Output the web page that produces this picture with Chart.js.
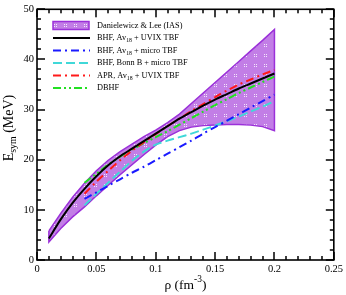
<!DOCTYPE html>
<html>
<head>
<meta charset="utf-8">
<script src="https://cdn.jsdelivr.net/npm/chart.js@4"></script>
<style>
  html, body { margin: 0; padding: 0; background: #fff; }
  #wrap { width: 346px; height: 295px; }
</style>
</head>
<body>
<div id="wrap"><canvas id="esym"></canvas></div>
<script>
// density grids (fm^-3)
const bandRho = [0.01, 0.02, 0.03, 0.04, 0.05, 0.06, 0.07, 0.08, 0.09, 0.10,
                 0.11, 0.12, 0.13, 0.14, 0.15, 0.16, 0.17, 0.18, 0.19, 0.20];
const modelRho = [0.04, 0.05, 0.06, 0.07, 0.08, 0.09, 0.10, 0.11, 0.12,
                  0.13, 0.14, 0.15, 0.16, 0.17, 0.18, 0.19, 0.20];

// Danielewicz & Lee (IAS) band, MeV
const bandUpper = [5.8, 9.3, 12.5, 15.3, 17.8, 19.9, 21.6, 23.1, 24.6, 25.9,
                   27.4, 29.1, 31.2, 33.3, 35.4, 37.5, 39.6, 41.7, 43.8, 46.0];
const bandLower = [3.6, 6.3, 8.6, 10.6, 12.8, 14.9, 17.0, 19.0, 21.0, 22.9,
                   24.6, 25.8, 26.5, 26.8, 26.9, 27.0, 27.0, 26.9, 26.6, 25.8];

// BHF, Av18 + UVIX TBF (on bandRho)
const bhfUvix = [4.3, 8.1, 11.4, 14.2, 16.7, 18.9, 20.7, 22.2, 23.7, 25.2,
                 26.7, 28.2, 29.5, 30.8, 32.0, 33.1, 34.2, 35.2, 36.2, 37.2];
// the rest on modelRho
const bhfMicro = [12.2, 13.5, 14.8, 16.1, 17.4, 18.6, 19.9, 21.2, 22.5,
                  23.8, 25.2, 26.5, 27.8, 29.1, 30.4, 31.7, 33.0];
const bonnMicro = [10.9, 13.2, 15.4, 17.6, 19.8, 21.6, 23.0, 23.8, 24.5,
                   25.2, 26.0, 26.8, 27.7, 28.6, 29.6, 30.6, 31.7];
const aprUvix = [13.2, 15.6, 17.8, 19.9, 21.8, 23.5, 25.1, 26.7, 28.2,
                 29.7, 31.1, 32.5, 33.8, 35.0, 36.0, 37.0, 37.9];
const dbhf = [15.4, 17.2, 19.0, 20.6, 22.0, 23.3, 24.5, 25.7, 27.0,
              28.3, 29.6, 30.9, 32.1, 33.3, 34.4, 35.5, 36.6];

const xTicks = [0, 0.05, 0.1, 0.15, 0.2, 0.25];
const yTicks = [0, 10, 20, 30, 40, 50];

const SERIF = "'Liberation Serif', 'Times New Roman', serif";
Chart.defaults.font.family = SERIF;
Chart.defaults.color = "#000";

const PURPLE_FILL = "#c27ee6";
const PURPLE_EDGE = "#9b30d9";

function makePattern() {
  const c = document.createElement("canvas");
  c.width = 10;
  c.height = 10;
  const g = c.getContext("2d");
  g.fillStyle = PURPLE_FILL;
  g.fillRect(0, 0, 10, 10);
  g.fillStyle = "#f4e8fb";
  g.fillRect(4, 4, 1, 1);
  g.fillRect(6, 4, 1, 1);
  g.fillRect(4, 6, 1, 1);
  g.fillRect(6, 6, 1, 1);
  return document.getElementById("esym").getContext("2d").createPattern(c, "repeat");
}

function xy(xs, ys) {
  return xs.map((x, i) => ({ x: x, y: ys[i] }));
}

// closed outline: upper edge forward, lower edge back
function bandShape() {
  const pts = xy(bandRho, bandUpper);
  for (let i = bandRho.length - 1; i >= 0; i--) {
    pts.push({ x: bandRho[i], y: bandLower[i] });
  }
  pts.push({ x: bandRho[0], y: bandUpper[0] });
  return pts;
}

// text with _{sub} and ^{sup}
function richParts(str) {
  const parts = [];
  const re = /([_^])\{([^}]*)\}/g;
  let last = 0, m;
  while ((m = re.exec(str)) !== null) {
    if (m.index > last) parts.push({ t: str.slice(last, m.index), k: "n" });
    parts.push({ t: m[2], k: m[1] === "_" ? "sub" : "sup" });
    last = re.lastIndex;
  }
  if (last < str.length) parts.push({ t: str.slice(last), k: "n" });
  return parts;
}

function drawRich(ctx, str, x, y, size, align) {
  const parts = richParts(str);
  const small = size * 0.7;
  let total = 0;
  parts.forEach(p => {
    ctx.font = (p.k === "n" ? size : small) + "px " + SERIF;
    p.w = ctx.measureText(p.t).width;
    total += p.w;
  });
  let cx = align === "center" ? x - total / 2 : x;
  ctx.textAlign = "left";
  ctx.textBaseline = "middle";
  parts.forEach(p => {
    let dy = 0;
    if (p.k === "sub") dy = size * 0.32;
    if (p.k === "sup") dy = -size * 0.38;
    ctx.font = (p.k === "n" ? size : small) + "px " + SERIF;
    ctx.fillText(p.t, cx, y + dy);
    cx += p.w;
  });
}

const framePlugin = {
  id: "frame",
  afterDraw(chart) {
    const ctx = chart.ctx;
    const a = chart.chartArea;
    const xs = chart.scales.x, ys = chart.scales.y;
    ctx.save();
    ctx.setLineDash([]);
    ctx.strokeStyle = "#000";
    ctx.lineWidth = 1.6;
    ctx.strokeRect(a.left, a.top, a.right - a.left, a.bottom - a.top);

    // inward tick marks on all four sides
    ctx.fillStyle = "#000";
    for (let k = 0; k <= 25; k++) {
      const len = k % 5 === 0 ? 8 : 4;
      const px = Math.round(xs.getPixelForValue(k * 0.01));
      ctx.fillRect(px - 0.75, a.bottom - len, 1.5, len);
      ctx.fillRect(px - 0.75, a.top, 1.5, len);
    }
    for (let v = 0; v <= 50; v += 2) {
      const len = v % 10 === 0 ? 8 : 4;
      const py = Math.round(ys.getPixelForValue(v));
      ctx.fillRect(a.left, py - 0.75, len, 1.5);
      ctx.fillRect(a.right - len, py - 0.75, len, 1.5);
    }

    // axis titles
    drawRich(ctx, "\u03c1 (fm^{-3})", (a.left + a.right) / 2, 285, 13.5, "center");
    ctx.save();
    ctx.translate(9, 128);
    ctx.rotate(-Math.PI / 2);
    drawRich(ctx, "E_{sym} (MeV)", 0, 0, 14, "center");
    ctx.restore();

    // legend
    const rowY = [25.5, 38, 50.5, 63, 75.5, 88];
    chart.data.datasets.forEach((ds, i) => {
      const y = rowY[i];
      if (ds.fill) {
        ctx.fillStyle = ds.backgroundColor;
        ctx.fillRect(53, y - 4, 36, 8);
        ctx.strokeStyle = ds.borderColor;
        ctx.lineWidth = 1.5;
        ctx.setLineDash([]);
        ctx.strokeRect(53, y - 4, 36, 8);
      } else {
        ctx.strokeStyle = ds.borderColor;
        ctx.lineWidth = ds.borderWidth;
        ctx.setLineDash(ds.borderDash || []);
        ctx.beginPath();
        ctx.moveTo(53, y); ctx.lineTo(90, y);
        ctx.stroke();
      }
      ctx.setLineDash([]);
      ctx.fillStyle = "#000";
      drawRich(ctx, ds.richLabel, 97, y, 8.3, "left");
    });
    ctx.restore();
  }
};

function lineSet(label, rich, xs, ys, color, dash) {
  return {
    label: label,
    richLabel: rich,
    data: xy(xs, ys),
    borderColor: color,
    borderWidth: 2,
    borderDash: dash,
    pointRadius: 0,
    tension: 0.3,
    fill: false,
    order: 0,
  };
}

const ctx = document.getElementById("esym");
const chart = new Chart(ctx, {
  type: "line",
  data: {
    datasets: [
      {
        label: "Danielewicz & Lee (IAS)",
        richLabel: "Danielewicz & Lee (IAS)",
        data: bandShape(),
        borderColor: PURPLE_EDGE,
        borderWidth: 1.5,
        backgroundColor: makePattern(),
        fill: "shape",
        pointRadius: 0,
        tension: 0,
        order: 10,
      },
      lineSet("BHF, Av18 + UVIX TBF", "BHF, Av_{18} + UVIX TBF", bandRho, bhfUvix, "#000000", []),
      lineSet("BHF, Av18 + micro TBF", "BHF, Av_{18} + micro TBF", modelRho, bhfMicro, "#1a1aff", [8, 4, 2, 4]),
      lineSet("BHF, Bonn B + micro TBF", "BHF, Bonn B + micro TBF", modelRho, bonnMicro, "#40d8d8", [9, 4]),
      lineSet("APR, Av18 + UVIX TBF", "APR, Av_{18} + UVIX TBF", modelRho, aprUvix, "#ff1a1a", [8, 4, 2, 4]),
      lineSet("DBHF", "DBHF", modelRho, dbhf, "#22e022", [8, 3, 2, 3, 2, 3]),
    ],
  },
  options: {
    responsive: true,
    maintainAspectRatio: false,
    animation: false,
    layout: { padding: { top: 5, right: 12, left: 0, bottom: 0 } },
    plugins: {
      legend: { display: false },
      tooltip: { enabled: false },
    },
    scales: {
      x: {
        type: "linear",
        min: 0,
        max: 0.25,
        grid: { display: false, drawTicks: false },
        border: { display: false },
        afterBuildTicks: s => { s.ticks = xTicks.map(v => ({ value: v })); },
        afterFit: s => { s.height = 35; },
        ticks: {
          padding: 3,
          maxRotation: 0,
          font: { size: 10.5 },
          callback: v => String(v),
        },
      },
      y: {
        type: "linear",
        min: 0,
        max: 50,
        grid: { display: false, drawTicks: false },
        border: { display: false },
        afterBuildTicks: s => { s.ticks = yTicks.map(v => ({ value: v })); },
        afterFit: s => { s.width = 37; },
        ticks: {
          padding: 3,
          font: { size: 10.5 },
          callback: v => String(v),
        },
      },
    },
  },
  plugins: [framePlugin],
});
</script>
</body>
</html>
